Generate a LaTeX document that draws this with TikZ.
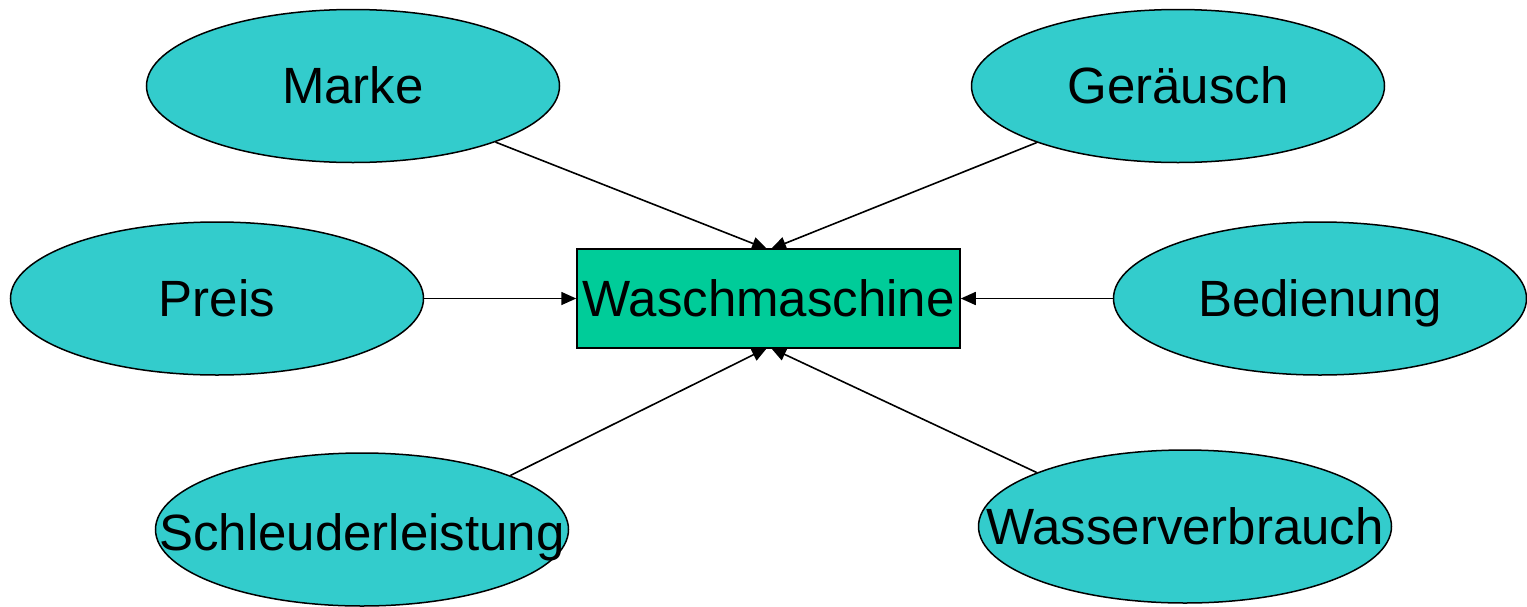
\documentclass[tikz,border=0pt]{standalone}
\usepackage{fontspec}
\setmainfont{Liberation Sans}
\usetikzlibrary{shapes.geometric,arrows.meta}
\definecolor{ellfill}{HTML}{33CCCC}
\definecolor{boxfill}{HTML}{00CC99}
\newcommand{\zw}[1]{\makebox[0pt][c]{#1}}
\begin{document}
\begin{tikzpicture}[x=1pt,y=-1pt,
  txt/.style={font=\fontsize{51}{60}\selectfont,text height=35pt,text depth=0pt,inner sep=0pt},
  ell/.style={txt,ellipse,draw=black,line width=1.5pt,fill=ellfill,minimum width=413pt,minimum height=153pt},
  mainbox/.style={txt,rectangle,draw=black,line width=1.5pt,fill=boxfill,minimum width=383pt,minimum height=99pt},
  conn/.style={line width=1.6pt,-{Triangle[length=15pt,width=13pt]}}]
\useasboundingbox (0,0) rectangle (1527,606);
\node[mainbox] (w) at (768.5,298.5) {\zw{Waschmaschine}};
\node[ell] (marke) at (353,86) {\zw{Marke}};
\node[ell] (ger) at (1178,86) {\zw{Geräusch}};
\node[ell] (preis) at (217,298.5) {\zw{Preis}};
\node[ell] (bed) at (1320,298.5) {\zw{Bedienung}};
\node[ell] (schl) at (362,529.5) {\zw{\raisebox{-3pt}{Schleuderleistung}}};
\node[ell] (wass) at (1185,526.5) {\zw{Wasserverbrauch}};
\coordinate (tl) at (767,249);
\coordinate (tr) at (771,249);
\coordinate (bl) at (767,348);
\coordinate (br) at (771,348);
\draw[conn] (marke) -- (tl);
\draw[conn] (ger) -- (tr);
\draw[conn] (preis) -- (w);
\draw[conn] (bed) -- (w);
\draw[conn] (schl.20) -- (bl);
\draw[conn] (wass.160) -- (br);
\end{tikzpicture}
\end{document}
